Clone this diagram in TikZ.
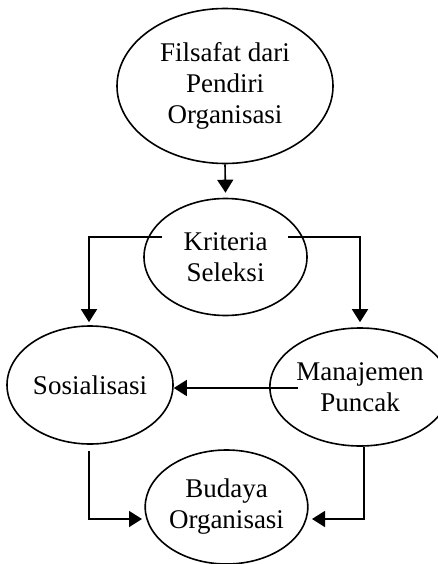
\documentclass[tikz,border=0pt]{standalone}
\usepackage{fontspec}
\setmainfont{Liberation Serif}
\usetikzlibrary{shapes.geometric,arrows.meta,calc}
\begin{document}
\begin{tikzpicture}[x=1pt,y=-1pt,
  oval/.style={draw,ellipse,line width=1.6pt,inner sep=0pt,align=center,
    font=\fontsize{27}{31}\selectfont},
  link/.style={line width=1.6pt,-{Triangle[length=13pt,width=16pt]}}]
\useasboundingbox (0,0) rectangle (438,564);
% the six concepts
\node[oval,minimum width=216pt,minimum height=155pt] (fil) at (225,86)
  {Filsafat dari\\Pendiri\\Organisasi};
\node[oval,minimum width=163pt,minimum height=117pt] (kri) at (225.5,257)
  {Kriteria\\Seleksi};
\node[oval,minimum width=166pt,minimum height=118pt] (sos) at (90,385)
  {Sosialisasi};
\node[oval,minimum width=154pt,minimum height=118pt] (man) at (360,387)
  {Manajemen\\Puncak};
\node[oval,minimum width=159pt,minimum height=114pt] (bud) at (226.5,507)
  {Budaya\\Organisasi};
% free ends of the connectors
\coordinate (kriL) at ($(kri.center)+(-63.5,-20)$);
\coordinate (kriR) at ($(kri.center)+(62.5,-20)$);
\coordinate (manL) at ($(man.center)+(-62,1)$);
\coordinate (sosB) at ($(sos.south)+(-1,6)$);
\coordinate (manB) at ($(man.south)+(4,0)$);
% connectors
\draw[link] (fil.south) -- ($(kri.north)+(0,-5)$);
\draw[link] (kriL) -| ($(sos.north)+(-1,-3)$);
\draw[link] (kriR) -| ($(man.north)+(0,-5)$);
\draw[link] (manL) -- (manL -| sos.east);
\draw[link] (sosB) |- ($(bud.center)+(-84.5,12)$);
\draw[link] (manB) |- ($(bud.center)+(85.5,12)$);
\end{tikzpicture}
\end{document}
